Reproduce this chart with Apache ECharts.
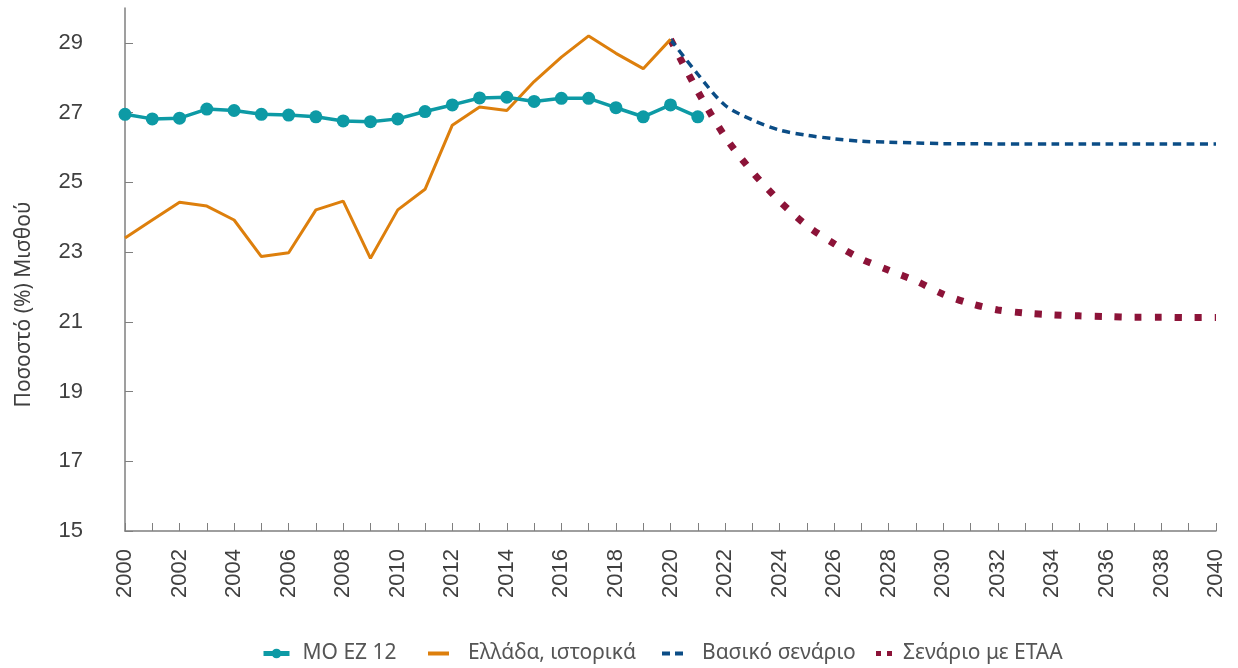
<!DOCTYPE html>
<html>
<head>
<meta charset="utf-8">
<title>ECharts</title>
<script src="https://cdn.jsdelivr.net/npm/echarts@6/dist/echarts.min.js"></script>
<style>html,body{margin:0;padding:0;background:#fff;}</style>
</head>
<body>
<div id="main" style="width:1238px;height:668px;"></div>
<script type="text/javascript">
// years on the x axis
var years = [];
for (var y = 2000; y <= 2040; y++) years.push(String(y));

// ΜΟ ΕΖ 12, 2000-2021
var moEz12 = [26.95, 26.82, 26.84, 27.10, 27.06, 26.95, 26.93, 26.88, 26.76, 26.74,
    26.82, 27.03, 27.22, 27.42, 27.44, 27.32, 27.41, 27.41, 27.14, 26.88, 27.22, 26.88];
// Ελλάδα, ιστορικά, 2000-2020
var greece = [23.40, 23.92, 24.43, 24.32, 23.92, 22.87, 22.98, 24.21, 24.46, 22.82,
    24.21, 24.80, 26.64, 27.16, 27.06, 27.89, 28.59, 29.20, 28.70, 28.26, 29.10];
// Βασικό σενάριο, 2020-2040
var baseline = [29.10, 28.10, 27.21, 26.79, 26.50, 26.35, 26.25, 26.18, 26.15, 26.13,
    26.11, 26.11, 26.10, 26.10, 26.10, 26.10, 26.10, 26.10, 26.10, 26.10, 26.10];
// Σενάριο με ΕΤΑΑ, 2020-2040
var etaa = [29.10, 27.61, 26.31, 25.30, 24.46, 23.76, 23.24, 22.80, 22.48, 22.17,
    21.79, 21.52, 21.34, 21.25, 21.20, 21.17, 21.15, 21.13, 21.13, 21.12, 21.12];

var names = ['ΜΟ ΕΖ 12', 'Ελλάδα, ιστορικά', 'Βασικό σενάριο', 'Σενάριο με ΕΤΑΑ'];

// pad the projections so they start at 2020
function fromYear(arr, startIdx) {
    var out = [];
    for (var i = 0; i < startIdx; i++) out.push('-');
    return out.concat(arr);
}

var axisFont = 'Liberation Sans';
var textFont = 'Noto Sans';

// one legend per item so each swatch can have its own shape
function legendItem(name, left, w, h, icon, gap) {
    return {
        left: left,
        top: 638,
        itemWidth: w,
        itemHeight: h,
        selectedMode: false,
        lineStyle: { width: 5 },
        textStyle: { fontSize: 21, color: '#555', fontFamily: textFont, padding: [0, 0, 0, gap] },
        data: [icon ? { name: name, icon: icon } : { name: name }]
    };
}

var myChart = echarts.init(document.getElementById('main'));
var option = {
    animation: false,
    textStyle: { fontFamily: textFont },
    grid: { left: 125, right: 22, top: 8, bottom: 137 },
    legend: [
        legendItem(names[0], 256, 26, 12, null, 8),
        legendItem(names[1], 423, 21, 4, 'rect', 14),
        legendItem(names[2], 657, 21, 4, 'path://M0,0h8v4h-8z M13,0h8v4h-8z', 14),
        legendItem(names[3], 871, 16, 5, 'path://M0,0h5v5h-5z M11,0h5v5h-5z', 6)
    ],
    xAxis: {
        type: 'category',
        data: years,
        boundaryGap: false,
        axisLine: { lineStyle: { color: '#7f7f7f', width: 1.5 } },
        axisTick: { inside: true, interval: 0, length: 8, lineStyle: { color: '#7f7f7f' } },
        axisLabel: { interval: 1, rotate: 90, fontSize: 22, fontFamily: axisFont, color: '#404040', margin: 18 }
    },
    yAxis: {
        type: 'value',
        min: 15,
        max: 30,
        interval: 2,
        name: 'Ποσοστό (%) Μισθού',
        nameLocation: 'middle',
        nameGap: 90,
        nameTextStyle: { fontSize: 21, color: '#404040', fontFamily: textFont, padding: [0, 70, 0, 0] },
        splitLine: { show: false },
        axisLine: { show: true, lineStyle: { color: '#7f7f7f', width: 1.5 } },
        axisTick: { show: true, inside: true, length: 8, lineStyle: { color: '#7f7f7f' } },
        axisLabel: { fontSize: 22, fontFamily: axisFont, color: '#404040', margin: 42, showMaxLabel: false }
    },
    series: [
        {
            name: names[0],
            type: 'line',
            data: moEz12,
            symbol: 'circle',
            symbolSize: 13,
            itemStyle: { color: '#0d9aa5' },
            lineStyle: { color: '#0d9aa5', width: 3.5 },
            z: 4
        },
        {
            name: names[1],
            type: 'line',
            data: greece,
            symbol: 'none',
            itemStyle: { color: '#dd7f0c' },
            lineStyle: { color: '#dd7f0c', width: 3 },
            z: 3
        },
        {
            name: names[2],
            type: 'line',
            data: fromYear(baseline, 20),
            symbol: 'none',
            smooth: 0.3,
            itemStyle: { color: '#0b4d86' },
            lineStyle: { color: '#0b4d86', width: 3.5, type: [8, 5.5] },
            z: 2
        },
        {
            name: names[3],
            type: 'line',
            data: fromYear(etaa, 20),
            symbol: 'none',
            smooth: 0.3,
            itemStyle: { color: '#8c1338' },
            lineStyle: { color: '#8c1338', width: 7, type: [7, 13] },
            z: 1
        }
    ]
};
myChart.setOption(option);
</script>
</body>
</html>
